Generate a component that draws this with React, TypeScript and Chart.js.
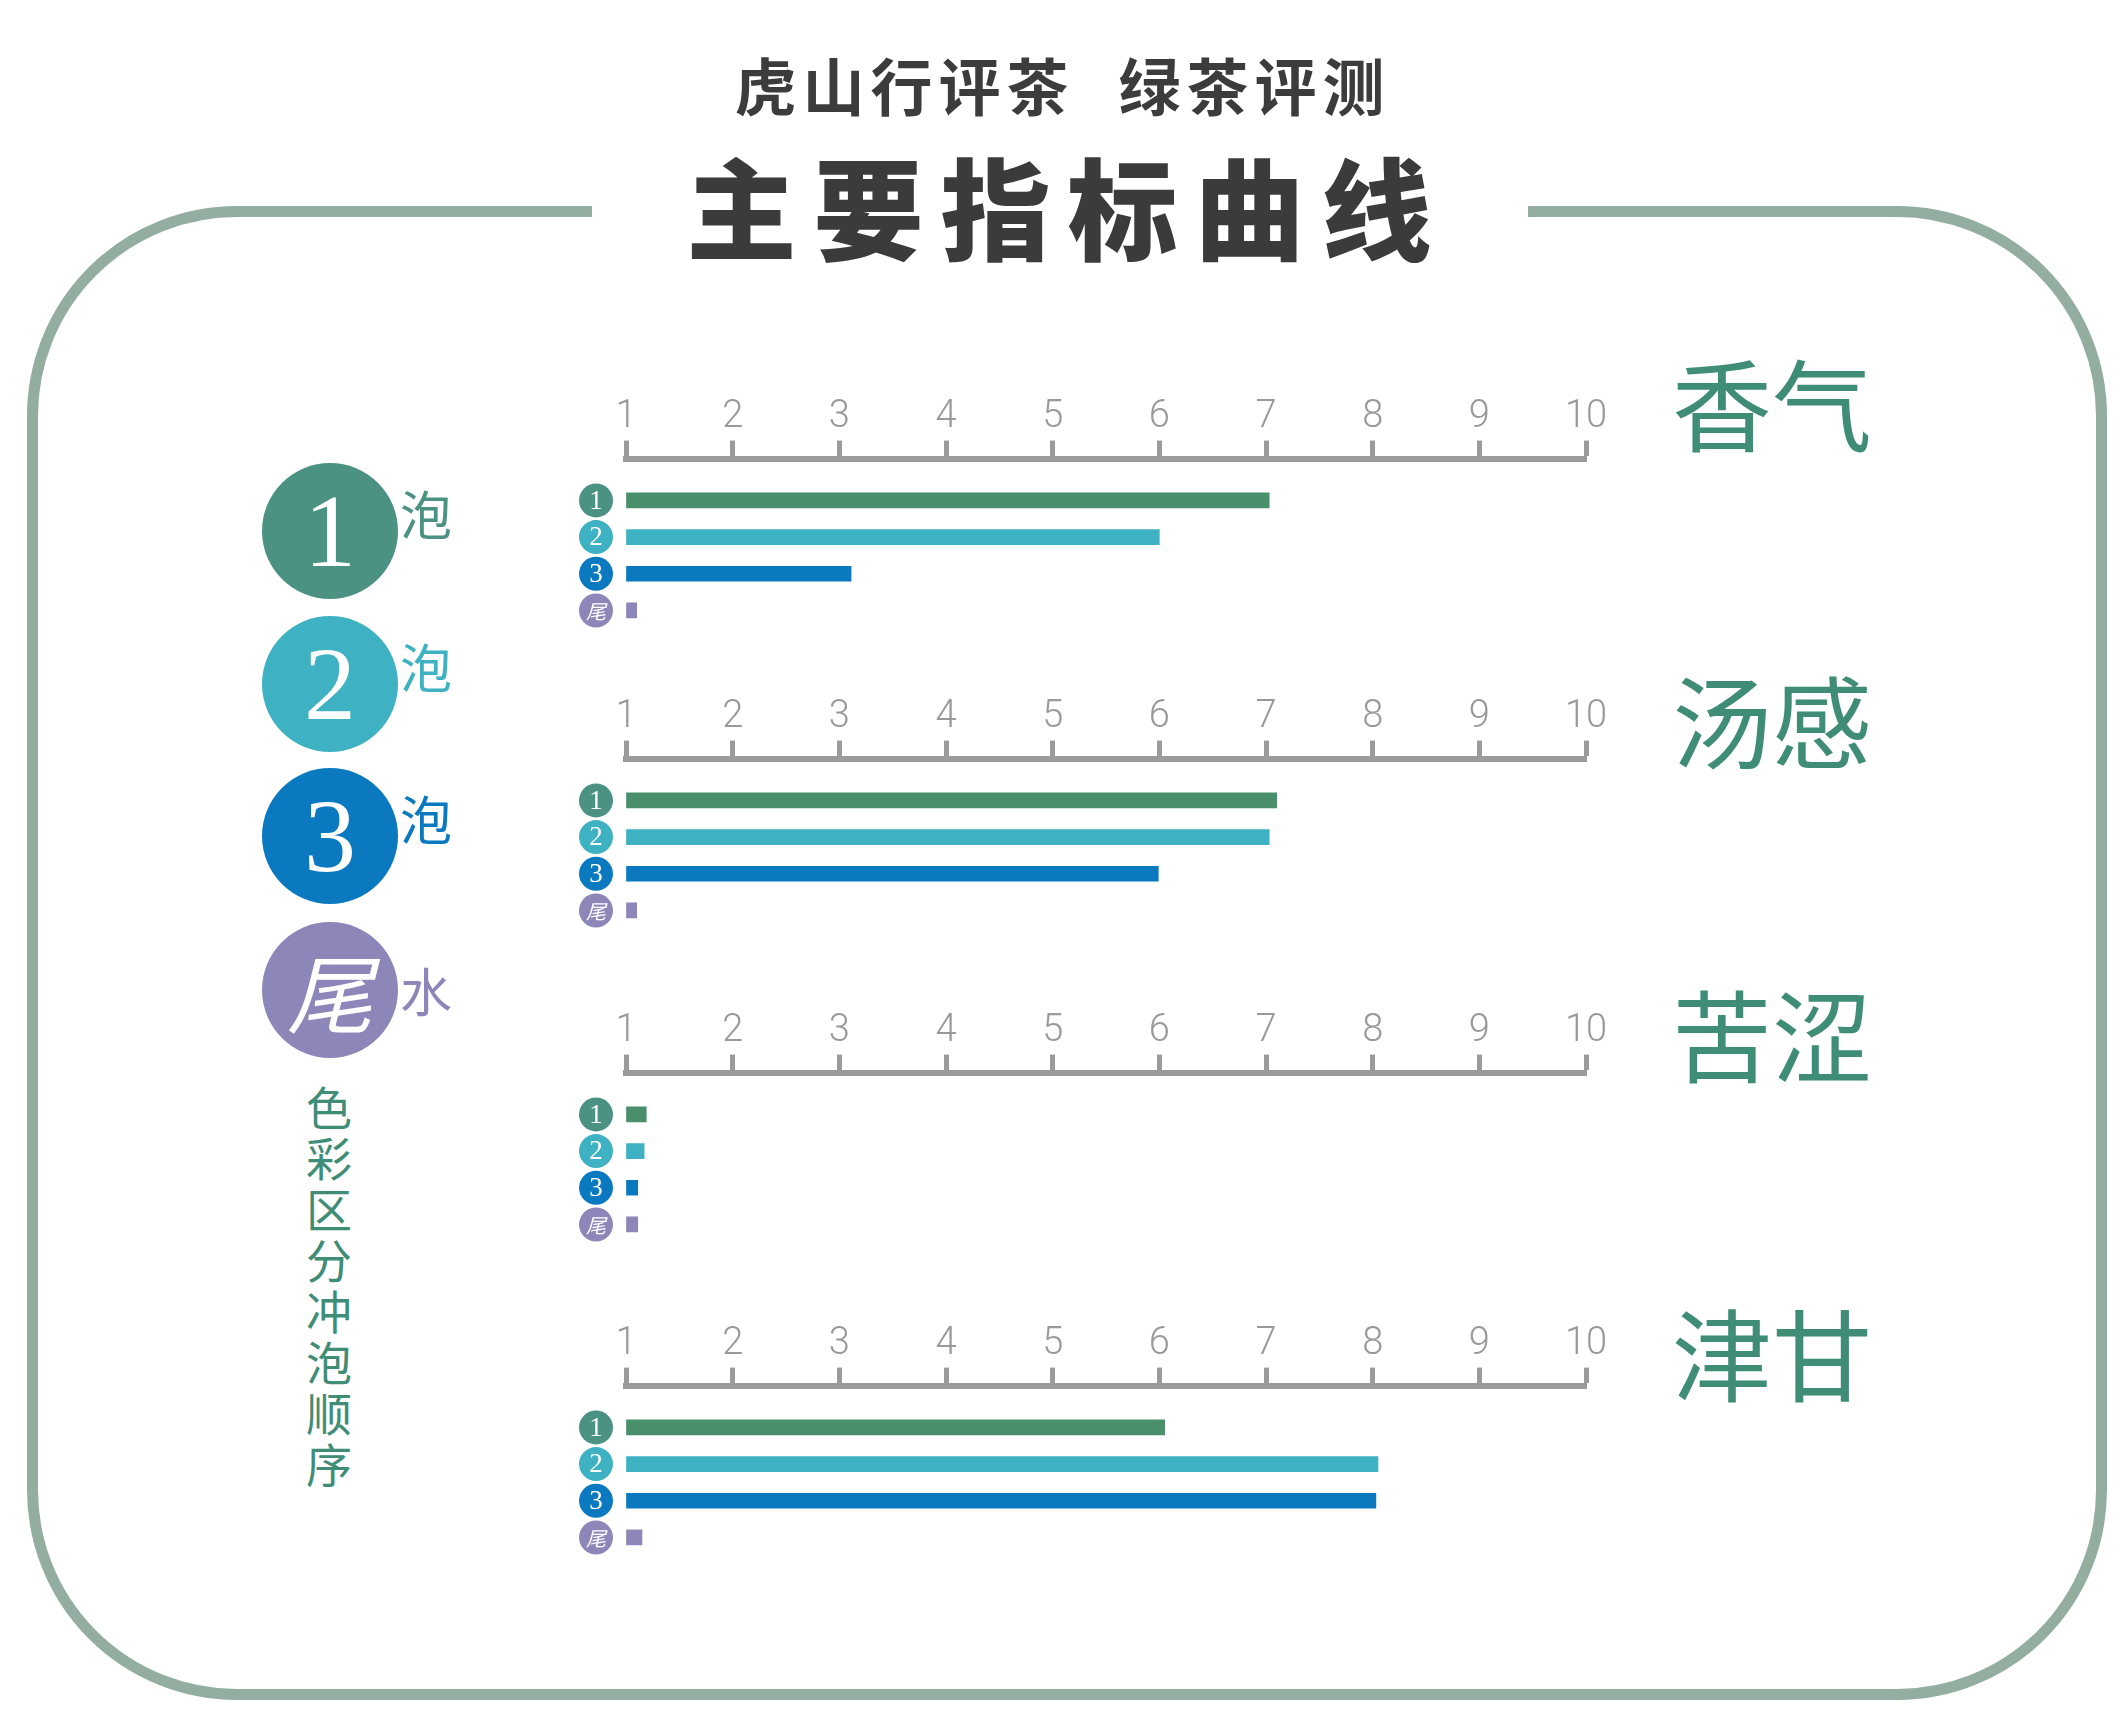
import React, { useEffect, useRef } from "react";
import { Chart, registerables } from "chart.js";

Chart.register(...registerables);

// four tasting indicators, one small chart each
const indicators = ["香气", "汤感", "苦涩", "津甘"];

// score per indicator for each brew (scale 1 - 10)
const brew1 = [7.03, 7.1, 1.19, 6.05];
const brew2 = [6.0, 7.03, 1.17, 8.05];
const brew3 = [3.11, 5.99, 1.11, 8.03];
const tailWater = [1.1, 1.1, 1.11, 1.15];

const seriesBadges = ["1", "2", "3", "尾"];
const legendNumbers = ["1", "2", "3", "尾"];
const legendSuffix = ["泡", "泡", "泡", "水"];
const axisTicks = [1, 2, 3, 4, 5, 6, 7, 8, 9, 10];

const barColors = ["#4a8f6c", "#3eb2c2", "#0a79bf", "#8c86b9"];
const badgeColors = ["#4b9282", "#3eb2c2", "#0a79bf", "#8c86b9"];
const AXIS_GREY = "#9b9b9b";
const TEXT_GREEN = "#3f8d76";

// y of each panel's axis line on the page, and of the indicator name
const panelAxisY = [459, 759, 1073, 1386];
const panelNameY = [401, 718, 1032, 1351];

const badgePlugin = {
  id: "badges",
  afterDatasetsDraw(chart: any) {
    const { ctx, chartArea, scales } = chart;
    seriesBadges.forEach((label, i) => {
      const y = scales.y.getPixelForValue(i);
      const x = chartArea.left - 30;
      ctx.save();
      ctx.beginPath();
      ctx.arc(x, y, 17, 0, Math.PI * 2);
      ctx.fillStyle = badgeColors[i];
      ctx.fill();
      ctx.fillStyle = "#ffffff";
      ctx.textAlign = "center";
      ctx.textBaseline = "middle";
      ctx.font =
        label === "尾"
          ? "italic 20px 'Noto Sans CJK SC'"
          : "27px 'Liberation Serif', serif";
      ctx.fillText(label, x, y + 1);
      ctx.restore();
    });
  },
};

function Panel({ index }: { index: number }) {
  const canvasRef = useRef<HTMLCanvasElement>(null);

  useEffect(() => {
    if (!canvasRef.current) return;
    const values = [brew1[index], brew2[index], brew3[index], tailWater[index]];

    const chart = new Chart(canvasRef.current, {
      type: "bar",
      data: {
        datasets: [
          {
            label: indicators[index],
            data: values.map((v, i) => ({ x: v, y: i })),
            base: 1,
            backgroundColor: barColors,
            barThickness: 15,
          } as any,
        ],
      },
      options: {
        indexAxis: "y",
        responsive: false,
        animation: false,
        layout: { padding: { left: 86, right: 64, top: 30, bottom: 0 } },
        plugins: { legend: { display: false }, tooltip: { enabled: false } },
        scales: {
          x: {
            type: "linear",
            position: "top",
            min: 1,
            max: 10,
            afterBuildTicks: (scale: any) => {
              scale.ticks = axisTicks.map((v) => ({ value: v }));
            },
            ticks: {
              color: "#999999",
              padding: 0,
              maxRotation: 0,
              autoSkip: false,
              font: { family: "'Liberation Sans Narrow', 'Roboto'", size: 38, weight: 300 },
            },
            grid: {
              drawOnChartArea: false,
              drawTicks: true,
              tickLength: 18,
              tickWidth: 5,
              tickColor: AXIS_GREY,
              color: AXIS_GREY,
            },
            border: { display: true, width: 6, color: AXIS_GREY },
          },
          y: {
            type: "linear",
            display: false,
            offset: false,
            reverse: true,
            min: -1.14,
            max: 3.67,
          },
        },
      },
      plugins: [badgePlugin],
    });

    return () => chart.destroy();
  }, [index]);

  return (
    <canvas
      ref={canvasRef}
      width={1110}
      height={270}
      style={{
        position: "absolute",
        left: 540,
        top: panelAxisY[index] - 94,
        width: 1110,
        height: 270,
      }}
    />
  );
}

export default function App() {
  const cjk = "'Noto Sans CJK SC', sans-serif";
  const legendY = [531, 684, 836, 990];

  return (
    <div
      style={{
        position: "absolute",
        left: 0,
        top: 0,
        width: 2125,
        height: 1733,
        background: "#ffffff",
        fontFamily: cjk,
        overflow: "hidden",
      }}
    >
      {/* rounded frame */}
      <div
        style={{
          position: "absolute",
          left: 27,
          top: 206,
          width: 2080,
          height: 1494,
          border: "11px solid #93aea1",
          borderRadius: 210,
          boxSizing: "border-box",
        }}
      />
      {/* gap in the frame behind the title */}
      <div
        style={{
          position: "absolute",
          left: 592,
          width: 936,
          top: 190,
          height: 40,
          background: "#ffffff",
        }}
      />

      {/* headings */}
      <div
        style={{
          position: "absolute",
          left: 0,
          width: 2125,
          top: 44,
          textAlign: "center",
          fontSize: 62,
          fontWeight: 700,
          color: "#3c3c3c",
          lineHeight: "80px",
          letterSpacing: 6,
          whiteSpace: "pre",
        }}
      >
        虎山行评茶<span style={{ display: "inline-block", width: 44 }} />绿茶评测
      </div>
      <div
        style={{
          position: "absolute",
          left: 0,
          width: 2125,
          top: 139,
          textAlign: "center",
          fontSize: 110,
          fontWeight: 900,
          color: "#3b3b3b",
          lineHeight: "130px",
          letterSpacing: 17,
          paddingLeft: 10,
          boxSizing: "border-box",
        }}
      >
        主要指标曲线
      </div>

      {/* brew legend */}
      {legendNumbers.map((n, i) => (
        <React.Fragment key={n}>
          <div
            style={{
              position: "absolute",
              left: 330 - 68,
              top: legendY[i] - 68,
              width: 136,
              height: 136,
              borderRadius: "50%",
              background: badgeColors[i],
              color: "#ffffff",
              display: "flex",
              alignItems: "center",
              justifyContent: "center",
              fontFamily: n === "尾" ? cjk : "'Liberation Serif', serif",
              fontSize: n === "尾" ? 86 : 104,
              fontStyle: n === "尾" ? "italic" : "normal",
              lineHeight: 1,
            }}
          >
            {n}
          </div>
          <div
            style={{
              position: "absolute",
              left: 400,
              top: (i === 3 ? legendY[i] : legendY[i] - 18) - 34,
              fontSize: 52,
              lineHeight: "68px",
              color: badgeColors[i],
            }}
          >
            {legendSuffix[i]}
          </div>
        </React.Fragment>
      ))}

      {/* vertical caption */}
      <div
        style={{
          position: "absolute",
          left: 305,
          top: 1080,
          width: 48,
          fontSize: 46,
          lineHeight: "51px",
          color: TEXT_GREEN,
          textAlign: "center",
          wordBreak: "break-all",
        }}
      >
        色彩区分冲泡顺序
      </div>

      {/* charts and indicator names */}
      {indicators.map((name, i) => (
        <React.Fragment key={name}>
          <Panel index={i} />
          <div
            style={{
              position: "absolute",
              left: 1622,
              width: 300,
              top: panelNameY[i] - 65,
              textAlign: "center",
              fontSize: 100,
              lineHeight: "130px",
              color: TEXT_GREEN,
            }}
          >
            {name}
          </div>
        </React.Fragment>
      ))}
    </div>
  );
}
